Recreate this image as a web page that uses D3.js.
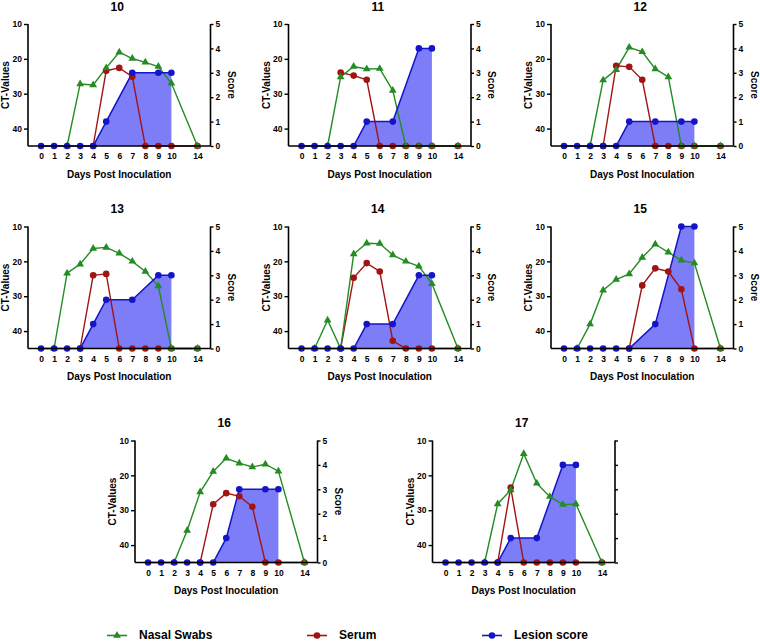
<!DOCTYPE html>
<html>
<head>
<meta charset="utf-8">
<script src="https://cdn.jsdelivr.net/npm/d3@7"></script>
<style>
  html, body { margin: 0; padding: 0; background: #fff; }
  svg { display: block; font-family: "Liberation Sans", Arial, sans-serif; }
</style>
</head>
<body>
<svg id="chart" width="760" height="641"></svg>
<script>
// ---------------- DATA ----------------
const days = [0, 1, 2, 3, 4, 5, 6, 7, 8, 9, 10, 14];
const panelTitles = ["10", "11", "12", "13", "14", "15", "16", "17"];
const ctTicks = [10, 20, 30, 40];
const scoreTicks = [0, 1, 2, 3, 4, 5];
const seriesNames = ["Nasal Swabs", "Serum", "Lesion score"];

// CT values (null = not sampled)
const nasal10 = [null, null, 45, 27.2, 27.5, 22.6, 18.1, 19.9, 21.0, 22.2, 27.0, 45];
const serum10 = [null, null, null, null, 45, 23.4, 22.6, 25.1, 45, 45, 45, 45];
const lesion10 = [0, 0, 0, 0, 0, 1, null, 3, null, 3, 3, null];

const nasal11 = [null, null, 45, 25.2, 22.2, 22.9, 22.8, 29.1, 45, 45, 45, 45];
const serum11 = [null, null, null, 23.9, 24.8, 26.0, 45, 45, 45, 45, 45, 45];
const lesion11 = [0, 0, 0, 0, 0, 1, null, 1, null, 4, 4, null];

const nasal12 = [null, null, 45, 26.1, 23.1, 16.7, 18.0, 22.9, 25.2, 45, 45, 45];
const serum12 = [null, null, null, 45, 22.0, 22.3, 26.0, 45, 45, 45, 45, 45];
const lesion12 = [0, 0, 0, 0, 0, 1, null, 1, null, 1, 1, null];

const nasal13 = [null, 45, 23.4, 20.8, 16.3, 16.0, 17.7, 20.0, 22.9, 27.1, 45, 45];
const serum13 = [null, null, null, 45, 24.0, 23.6, 45, 45, 45, 45, 45, 45];
const lesion13 = [0, 0, 0, 0, 1, 2, null, 2, null, 3, 3, null];

const nasal14 = [null, 45, 36.9, 45, 17.9, 14.8, 14.9, 18.2, 20.0, 21.4, 26.4, 45];
const serum14 = [null, null, null, 45, 24.7, 20.5, 22.9, 42.8, 45, 45, 45, 45];
const lesion14 = [0, 0, 0, 0, 0, 1, null, 1, null, 3, 3, null];

const nasal15 = [null, 45, 38.0, 28.3, 25.2, 23.6, 18.9, 15.1, 17.4, 19.7, 20.5, 45];
const serum15 = [null, null, null, null, null, 45, 26.9, 22.0, 22.9, 28.0, 45, 45];
const lesion15 = [0, 0, 0, 0, 0, 0, null, 1, null, 5, 5, null];

const nasal16 = [null, null, 45, 35.8, 24.8, 18.9, 15.1, 16.5, 17.6, 16.8, 18.8, 45];
const serum16 = [null, null, null, null, 45, 28.3, 25.1, 26.0, 29.0, 45, 45, 45];
const lesion16 = [0, 0, 0, 0, 0, 0, 1, 3, null, 3, 3, null];

const nasal17 = [null, null, null, 45, 28.2, 24.2, 13.8, 22.3, 26.1, 28.4, 28.2, 45];
const serum17 = [null, null, null, null, 45, 23.5, 45, 45, 45, 45, 45, 45];
const lesion17 = [0, 0, 0, 0, 0, 1, null, 1, null, 4, 4, null];

const nasalAll = [nasal10, nasal11, nasal12, nasal13, nasal14, nasal15, nasal16, nasal17];
const serumAll = [serum10, serum11, serum12, serum13, serum14, serum15, serum16, serum17];
const lesionAll = [lesion10, lesion11, lesion12, lesion13, lesion14, lesion15, lesion16, lesion17];

// ---------------- LAYOUT / STYLE ----------------
const W = 182.5, H = 122;
const layout = [
  {x: 28, y: 24}, {x: 288.5, y: 24}, {x: 551, y: 24},
  {x: 28, y: 226.5}, {x: 288.5, y: 226.5}, {x: 551, y: 226.5},
  {x: 135, y: 440.5}, {x: 432.5, y: 440.5}
];
const COL_GREEN = "#238c23";
const COL_RED = "#a01414";
const COL_BLUE = "#1414c8";
const COL_FILL = "#7d7df7";

const svg = d3.select("#chart");

// x slots: categorical positions with one blank slot for the 10 -> 14 jump
const slots = ["start"];
days.forEach((d, i) => {
  if (i > 0 && d - days[i - 1] > 1) slots.push("gap");
  slots.push(String(d));
});
slots.push("end");

const x = d3.scalePoint().domain(slots).range([0, W]).padding(0);
const yCT = d3.scaleLinear().domain([10, 45]).range([0, H]);
const yScore = d3.scaleLinear().domain([0, 5]).range([H, 0]);

function pts(arr) {
  return days.map((d, i) => ({day: d, v: arr[i]})).filter(p => p.v !== null);
}

const triangle = d3.symbol().type(d3.symbolTriangle).size(26);

panelTitles.forEach((title, k) => {
  const pos = layout[k];
  const g = svg.append("g").attr("transform", `translate(${pos.x},${pos.y})`);

  const nas = pts(nasalAll[k]);
  const ser = pts(serumAll[k]);
  const les = pts(lesionAll[k]);

  // lesion area
  const area = d3.area()
    .x(p => x(String(p.day)))
    .y0(yScore(0))
    .y1(p => yScore(p.v));
  g.append("path").datum(les).attr("d", area).attr("fill", COL_FILL);

  const lineCT = d3.line().x(p => x(String(p.day))).y(p => yCT(p.v));
  const lineScore = d3.line().x(p => x(String(p.day))).y(p => yScore(p.v));

  // serum
  g.append("path").datum(ser).attr("d", lineCT)
    .attr("fill", "none").attr("stroke", COL_RED).attr("stroke-width", 1.4);
  // nasal
  g.append("path").datum(nas).attr("d", lineCT)
    .attr("fill", "none").attr("stroke", COL_GREEN).attr("stroke-width", 1.4);
  // lesion
  g.append("path").datum(les).attr("d", lineScore)
    .attr("fill", "none").attr("stroke", COL_BLUE).attr("stroke-width", 1.5);

  g.selectAll(".ser").data(ser).enter().append("circle")
    .attr("cx", p => x(String(p.day))).attr("cy", p => yCT(p.v))
    .attr("r", 3.3).attr("fill", COL_RED);
  g.selectAll(".nas").data(nas).enter().append("path")
    .attr("d", triangle)
    .attr("transform", p => `translate(${x(String(p.day))},${yCT(p.v)})`)
    .attr("fill", COL_GREEN);
  g.selectAll(".les").data(les).enter().append("circle")
    .attr("cx", p => x(String(p.day))).attr("cy", p => yScore(p.v))
    .attr("r", 3.3).attr("fill", COL_BLUE);

  // axes
  const xAxis = d3.axisBottom(x)
    .tickValues(days.map(String)).tickSize(0).tickPadding(7);
  const gx = g.append("g").attr("transform", `translate(0,${H})`).call(xAxis);

  const yAxisL = d3.axisLeft(yCT).tickValues(ctTicks).tickSize(4).tickPadding(2);
  const gl = g.append("g").call(yAxisL);

  const showRight = k !== 7;
  const yAxisR = d3.axisRight(yScore).tickValues(scoreTicks).tickSize(3).tickPadding(2)
    .tickFormat(showRight ? d3.format("d") : () => "");
  const gr = g.append("g").attr("transform", `translate(${W},0)`).call(yAxisR);

  [gx, gl, gr].forEach(a => {
    a.select(".domain").attr("stroke", "#000").attr("stroke-width", 1.6);
    a.selectAll(".tick line").attr("stroke", "#000").attr("stroke-width", 1.4);
    a.selectAll("text").attr("font-size", 8.5).attr("font-weight", "bold")
      .attr("fill", "#000").attr("font-family", "'Liberation Sans', Arial, sans-serif");
  });
  gl.select(".domain").attr("d", `M0,0V${H}`);
  gr.select(".domain").attr("d", `M0,0V${H}`);
  gx.select(".domain").attr("d", `M0,0H${W}`);

  // titles
  g.append("text").attr("x", W / 2 - 2).attr("y", -13.5)
    .attr("text-anchor", "middle").attr("font-size", 12).attr("font-weight", "bold")
    .text(title);
  g.append("text").attr("x", W / 2).attr("y", H + 31.5)
    .attr("text-anchor", "middle").attr("font-size", 10).attr("font-weight", "bold")
    .text("Days Post Inoculation");
  g.append("text")
    .attr("transform", `translate(-19,${H / 2}) rotate(-90)`)
    .attr("text-anchor", "middle").attr("font-size", 10).attr("font-weight", "bold")
    .text("CT-Values");
  if (showRight) {
    g.append("text")
      .attr("transform", `translate(${W + 17},${H / 2}) rotate(90)`)
      .attr("text-anchor", "middle").attr("font-size", 10).attr("font-weight", "bold")
      .text("Score");
  }
});

// ---------------- LEGEND ----------------
const legendX = [107, 307, 482];
const legendColors = [COL_GREEN, COL_RED, COL_BLUE];
const legendY = 635.5;
seriesNames.forEach((name, i) => {
  const lg = svg.append("g").attr("transform", `translate(${legendX[i]},${legendY})`);
  lg.append("line").attr("x1", 0).attr("x2", 20).attr("y1", 0).attr("y2", 0)
    .attr("stroke", legendColors[i]).attr("stroke-width", 1.6);
  if (i === 0) {
    lg.append("path").attr("d", triangle).attr("transform", "translate(10,0)")
      .attr("fill", legendColors[i]);
  } else {
    lg.append("circle").attr("cx", 10).attr("cy", 0).attr("r", 3.3)
      .attr("fill", legendColors[i]);
  }
  lg.append("text").attr("x", 32).attr("y", 3.6)
    .attr("font-size", 12).attr("font-weight", "bold").text(name);
});
</script>
</body>
</html>
